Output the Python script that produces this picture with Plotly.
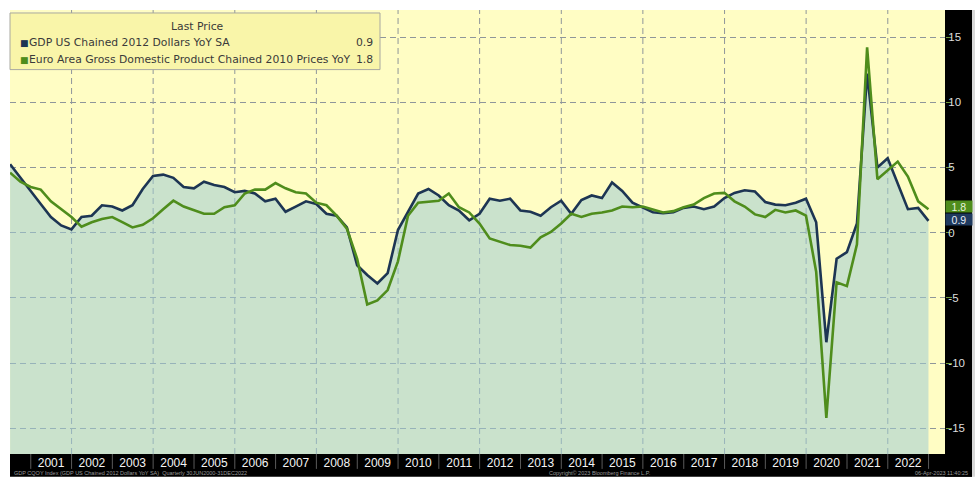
import plotly.graph_objects as go

# ---------------- data (quarter-end observations, YoY %) ----------------
QUARTER_END = ["03-31", "06-30", "09-30", "12-31"]
quarters = [f"{y}-{QUARTER_END[q]}" for y in range(2000, 2023) for q in range(4)][1:]  # 2000Q2 .. 2022Q4

us_gdp = [5.25, 4.2, 3.2,
          2.2, 1.2, 0.55, 0.25,
          1.2, 1.3, 2.1, 2.0,
          1.7, 2.1, 3.35, 4.35,
          4.45, 4.2, 3.5, 3.4,
          3.9, 3.65, 3.5, 3.1,
          3.2, 3.0, 2.4, 2.6,
          1.6, 2.0, 2.4, 2.2,
          1.45, 1.3, 0.4, -2.5,
          -3.25, -3.9, -3.1, 0.2,
          1.6, 3.0, 3.35, 2.85,
          2.1, 1.7, 0.95, 1.45,
          2.6, 2.45, 2.6, 1.7,
          1.6, 1.3, 1.95, 2.45,
          1.45, 2.5, 2.85, 2.65,
          3.85, 3.2, 2.3, 1.95,
          1.57, 1.5, 1.56, 1.9,
          2.0, 1.8, 2.0, 2.65,
          3.05, 3.25, 3.15, 2.35,
          2.15, 2.1, 2.3, 2.6,
          0.8, -8.4, -2.0, -1.5,
          0.7, 12.2, 5.0, 5.7,
          3.7, 1.8, 1.9, 0.9]

ez_gdp = [4.6, 3.9, 3.5,
          3.3, 2.4, 1.8, 1.2,
          0.45, 0.8, 1.05, 1.2,
          0.8, 0.4, 0.6, 1.1,
          1.8, 2.45, 2.0, 1.7,
          1.45, 1.45, 1.95, 2.1,
          3.0, 3.3, 3.3, 3.8,
          3.4, 3.1, 3.0, 2.3,
          2.1, 1.3, 0.3, -2.0,
          -5.5, -5.2, -4.4, -2.2,
          1.3, 2.3, 2.4, 2.45,
          3.0, 1.95, 1.55, 0.7,
          -0.45, -0.7, -0.95, -1.0,
          -1.15, -0.35, 0.05, 0.7,
          1.45, 1.2, 1.45, 1.55,
          1.7, 2.0, 1.95, 2.0,
          1.8, 1.55, 1.65, 1.95,
          2.15, 2.65, 3.0, 3.05,
          2.4, 2.0, 1.4, 1.2,
          1.75, 1.55, 1.7, 1.3,
          -3.0, -14.2, -3.8, -4.1,
          -0.9, 14.2, 4.1, 4.8,
          5.45, 4.3, 2.4, 1.8]

year_labels = list(range(2001, 2023))
y_ticks = [-15, -10, -5, 0, 5, 10, 15]
us_name = "GDP US Chained 2012 Dollars YoY SA"
ez_name = "Euro Area Gross Domestic Product Chained 2010 Prices YoY"
us_last = "0.9"
ez_last = "1.8"

# ---------------- style ----------------
W, H = 979, 480
ML, MR, MT, MB = 10, 34, 10, 23
PW, PH = W - ML - MR, H - MT - MB
Y_MIN, Y_MAX = -16.97, 17.07
X_RANGE = ["2000-06-29", "2023-05-28"]

NAVY = "#1d3553"
GREEN = "#4f8d1c"
YELLOW = "#FFFDC4"
FILL = "rgba(159,204,211,0.55)"
GRID = "#8f969a"
FONT = "Liberation Sans, Arial, sans-serif"
LFONT = "DejaVu Sans, Verdana, sans-serif"


def px(x):
    return (x - ML) / PW


def py(y):
    return (H - MB - y) / PH


fig = go.Figure()

# baseline for the area fill (bottom of the axis)
fig.add_trace(go.Scatter(x=quarters, y=[Y_MIN] * len(quarters), mode="lines",
                         line=dict(width=0), showlegend=False, hoverinfo="skip"))
fig.add_trace(go.Scatter(x=quarters, y=us_gdp, mode="lines", name=us_name,
                         line=dict(color=NAVY, width=2.6), fill="tonexty",
                         fillcolor=FILL, showlegend=False))
fig.add_trace(go.Scatter(x=quarters, y=ez_gdp, mode="lines", name=ez_name,
                         line=dict(color=GREEN, width=2.6), showlegend=False))

shapes = []
# black axis bands
shapes.append(dict(type="rect", xref="paper", yref="paper", x0=1, x1=px(972),
                   y0=py(H), y1=1, fillcolor="black", line=dict(width=0), layer="below"))
shapes.append(dict(type="rect", xref="paper", yref="paper", x0=0, x1=px(972),
                   y0=py(H), y1=0, fillcolor="black", line=dict(width=0), layer="below"))
shapes.append(dict(type="rect", xref="paper", yref="paper", x0=px(972), x1=px(975),
                   y0=py(H), y1=1, fillcolor="#d8d8d8", line=dict(width=0), layer="below"))
# vertical dashed gridlines every two years
for y in range(2002, 2023, 2):
    shapes.append(dict(type="line", xref="x", yref="paper", x0=f"{y}-01-01", x1=f"{y}-01-01",
                       y0=0, y1=1, line=dict(color=GRID, width=1, dash="6px,4px"), layer="below"))
# year separators in the bottom band
for y in range(2001, 2024):
    shapes.append(dict(type="line", xref="x", yref="paper", x0=f"{y}-01-01", x1=f"{y}-01-01",
                       y0=0, y1=py(472), line=dict(color="#5a5a5a", width=1), layer="below"))
# legend box
shapes.append(dict(type="rect", xref="paper", yref="paper", x0=px(10), x1=px(380),
                   y0=py(70), y1=py(13), fillcolor="#F9F5A9",
                   line=dict(color="#a8a8a0", width=1), layer="above"))

ann = []
ann.append(dict(text="Last Price", xref="paper", yref="paper", x=px(197), y=py(27),
                showarrow=False, font=dict(family=LFONT, size=10.8, color="#3a3a3a"),
                xanchor="center", yanchor="middle"))
for row_y, color, name, val in [(43, NAVY, us_name, us_last), (60, GREEN, ez_name, ez_last)]:
    ann.append(dict(text="■", xref="paper", yref="paper", x=px(18), y=py(row_y),
                    showarrow=False, font=dict(family=LFONT, size=9, color=color),
                    xanchor="left", yanchor="middle"))
    ann.append(dict(text=name, xref="paper", yref="paper", x=px(27), y=py(row_y),
                    showarrow=False, font=dict(family=LFONT, size=10.8, color="#3a3a3a"),
                    xanchor="left", yanchor="middle"))
    ann.append(dict(text=val, xref="paper", yref="paper", x=px(375), y=py(row_y),
                    showarrow=False, font=dict(family=LFONT, size=10.8, color="#3a3a3a"),
                    xanchor="right", yanchor="middle"))

# last value tags on the right axis
ann.append(dict(text=ez_last, xref="paper", yref="y", x=1, y=float(ez_last), yshift=3,
                showarrow=False, xanchor="left", yanchor="middle", align="center",
                bgcolor=GREEN, width=26, height=11, borderpad=0,
                font=dict(family=FONT, size=10.5, color="#e8f4dc")))
ann.append(dict(text=us_last, xref="paper", yref="y", x=1, y=float(us_last), yshift=1,
                showarrow=False, xanchor="left", yanchor="middle", align="center",
                bgcolor="#1f3a5f", width=26, height=11, borderpad=0,
                font=dict(family=FONT, size=10.5, color="#e8eef6")))

# footer
FOOT_Y = py(476)
FOOT_FONT = dict(family=FONT, size=5.5, color="#9a9a9a")
ann.append(dict(text="GDP CQOY Index (GDP US Chained 2012 Dollars YoY SA)  Quarterly 30JUN2000-31DEC2022",
                xref="paper", yref="paper", x=px(12), y=FOOT_Y, showarrow=False,
                xanchor="left", yanchor="middle", font=FOOT_FONT))
ann.append(dict(text="Copyright© 2023 Bloomberg Finance L.P.", xref="paper", yref="paper",
                x=px(600), y=FOOT_Y, showarrow=False, xanchor="center", yanchor="middle",
                font=FOOT_FONT))
ann.append(dict(text="06-Apr-2023 11:40:25", xref="paper", yref="paper", x=px(970), y=FOOT_Y,
                showarrow=False, xanchor="right", yanchor="middle", font=FOOT_FONT))

fig.update_layout(
    width=W, height=H,
    margin=dict(l=ML, r=MR, t=MT, b=MB, pad=0),
    paper_bgcolor="white", plot_bgcolor=YELLOW,
    showlegend=False,
    shapes=shapes, annotations=ann,
    xaxis=dict(type="date", range=X_RANGE, showgrid=False, zeroline=False, showline=False,
               tickmode="array", tickvals=[f"{y}-07-02" for y in year_labels],
               ticktext=[str(y) for y in year_labels], ticks="",
               tickfont=dict(family=FONT, size=12, color="#f4f4f4"), fixedrange=True),
    yaxis=dict(side="right", range=[Y_MIN, Y_MAX], tickmode="array", tickvals=y_ticks,
               ticktext=[str(v) for v in y_ticks], showgrid=True,
               gridcolor=GRID, griddash="6px,4px", gridwidth=1, zeroline=False, showline=False,
               ticks="outside", ticklen=6, tickcolor="#6f9a3c", ticklabelstandoff=-6,
               tickfont=dict(family=FONT, size=11.5, color="#dedede"), fixedrange=True),
)

fig.write_html("out.html", config={"displayModeBar": False},
               post_script="document.body.style.margin='0';document.body.style.overflow='hidden';")
